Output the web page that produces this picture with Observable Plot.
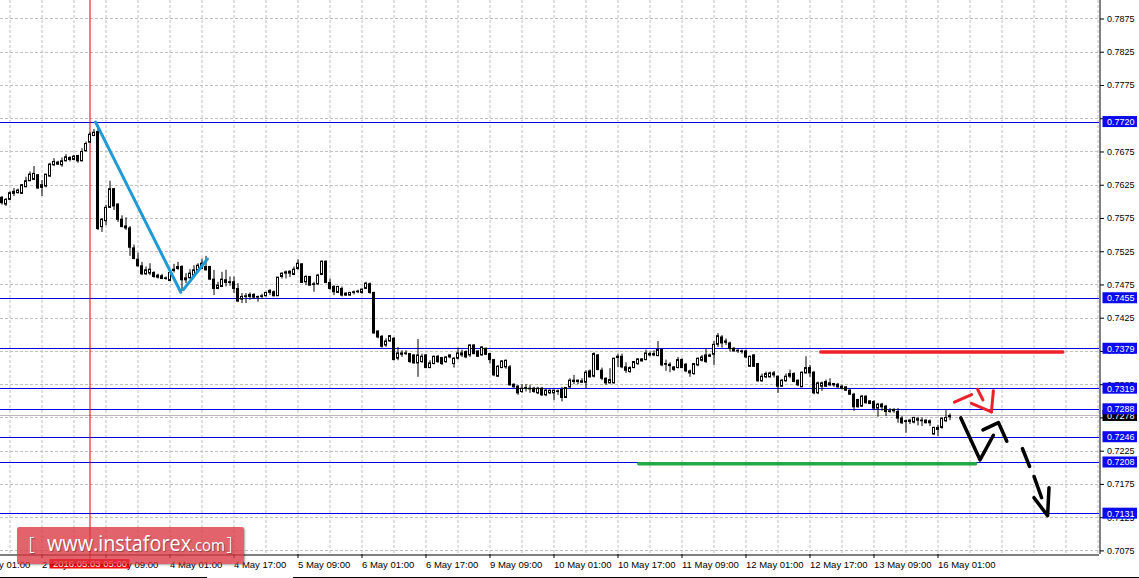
<!DOCTYPE html>
<html><head><meta charset="utf-8">
<script src="https://cdn.jsdelivr.net/npm/d3@7"></script>
<script src="https://cdn.jsdelivr.net/npm/@observablehq/plot@0.6"></script>
<style>
html,body{margin:0;padding:0;background:#fff;}
#wrap{position:relative;width:1139px;height:578px;overflow:hidden;background:#fff;}
#wrap svg{display:block;}
#wm{position:absolute;left:17px;top:527px;width:227px;height:37px;background:rgba(218,55,65,0.78);border-radius:2px;box-shadow:1px 1px 2px rgba(0,0,0,0.35);color:#fff;font-family:"Open Sans",sans-serif;white-space:nowrap;text-shadow:1px 1px 1px rgba(0,0,0,0.35);}
#wm span{position:absolute;line-height:1;}
#wm .b{top:7px;font-size:19px;font-weight:300;}
#wm .t{left:29.5px;top:5.4px;font-size:22.5px;transform:scaleX(0.88);transform-origin:0 0;}
#wm .t small{font-size:17px;}
.border{position:absolute;top:577px;height:1px;background:#000;}
</style></head><body>
<div id="wrap"></div>
<script>
// ---- data: AUD/USD H1 candles, 2 May 07:00 .. 16 May 04:00 (bar index 0..237)
const opens = [0.7606,0.7596,0.7603,0.7612,0.7613,0.7612,0.7622,0.7631,0.7633,0.7640,0.7621,0.7623,0.7638,0.7655,0.7659,0.7655,0.7661,0.7666,0.7663,0.7669,0.7661,0.7676,0.7689,0.7699,0.7705,0.7562,0.7571,0.7591,0.7619,0.7596,0.7573,0.7563,0.7560,0.7530,0.7513,0.7503,0.7491,0.7492,0.7493,0.7489,0.7488,0.7484,0.7481,0.7496,0.7499,0.7502,0.7482,0.7485,0.7489,0.7496,0.7499,0.7502,0.7502,0.7483,0.7469,0.7472,0.7482,0.7479,0.7479,0.7469,0.7453,0.7457,0.7457,0.7460,0.7456,0.7457,0.7458,0.7463,0.7464,0.7458,0.7487,0.7492,0.7492,0.7490,0.7499,0.7506,0.7479,0.7487,0.7475,0.7476,0.7490,0.7510,0.7478,0.7472,0.7463,0.7469,0.7462,0.7459,0.7463,0.7464,0.7463,0.7469,0.7476,0.7463,0.7405,0.7397,0.7384,0.7390,0.7394,0.7364,0.7372,0.7371,0.7371,0.7369,0.7357,0.7359,0.7369,0.7350,0.7356,0.7367,0.7365,0.7359,0.7366,0.7356,0.7364,0.7372,0.7374,0.7369,0.7384,0.7375,0.7369,0.7379,0.7371,0.7362,0.7337,0.7350,0.7351,0.7351,0.7325,0.7322,0.7314,0.7319,0.7319,0.7319,0.7312,0.7319,0.7309,0.7312,0.7312,0.7315,0.7317,0.7305,0.7321,0.7331,0.7329,0.7330,0.7328,0.7345,0.7337,0.7369,0.7346,0.7334,0.7327,0.7327,0.7365,0.7367,0.7351,0.7344,0.7350,0.7356,0.7363,0.7362,0.7371,0.7369,0.7368,0.7377,0.7356,0.7355,0.7351,0.7350,0.7362,0.7355,0.7345,0.7341,0.7354,0.7361,0.7369,0.7367,0.7370,0.7385,0.7396,0.7388,0.7387,0.7379,0.7376,0.7375,0.7375,0.7352,0.7369,0.7356,0.7330,0.7336,0.7336,0.7342,0.7337,0.7322,0.7330,0.7337,0.7341,0.7331,0.7321,0.7342,0.7350,0.7343,0.7312,0.7322,0.7329,0.7327,0.7324,0.7325,0.7322,0.7321,0.7316,0.7310,0.7302,0.7292,0.7307,0.7296,0.7299,0.7289,0.7295,0.7292,0.7284,0.7285,0.7284,0.7274,0.7270,0.7269,0.7268,0.7273,0.7271,0.7271,0.7267,0.7250,0.7257,0.7260,0.7270,0.7276];
const highs = [0.7608,0.7605,0.7615,0.7620,0.7619,0.7626,0.7637,0.7645,0.7653,0.7641,0.7632,0.7641,0.7658,0.7665,0.7661,0.7666,0.7671,0.7668,0.7670,0.7670,0.7680,0.7690,0.7704,0.7709,0.7715,0.7575,0.7595,0.7631,0.7620,0.7597,0.7579,0.7576,0.7563,0.7535,0.7523,0.7509,0.7502,0.7507,0.7495,0.7491,0.7491,0.7487,0.7494,0.7506,0.7509,0.7504,0.7492,0.7498,0.7504,0.7507,0.7514,0.7518,0.7503,0.7497,0.7479,0.7494,0.7497,0.7487,0.7487,0.7477,0.7462,0.7462,0.7463,0.7462,0.7458,0.7461,0.7464,0.7468,0.7466,0.7486,0.7493,0.7496,0.7496,0.7502,0.7513,0.7507,0.7489,0.7488,0.7479,0.7491,0.7511,0.7511,0.7484,0.7474,0.7473,0.7472,0.7463,0.7464,0.7466,0.7467,0.7469,0.7479,0.7478,0.7464,0.7406,0.7399,0.7394,0.7399,0.7396,0.7381,0.7376,0.7376,0.7372,0.7370,0.7393,0.7371,0.7370,0.7361,0.7368,0.7369,0.7366,0.7367,0.7370,0.7366,0.7380,0.7377,0.7376,0.7385,0.7385,0.7376,0.7382,0.7380,0.7372,0.7363,0.7354,0.7361,0.7362,0.7354,0.7326,0.7324,0.7325,0.7325,0.7324,0.7321,0.7321,0.7321,0.7318,0.7317,0.7317,0.7317,0.7321,0.7320,0.7334,0.7339,0.7332,0.7334,0.7346,0.7347,0.7373,0.7370,0.7350,0.7335,0.7349,0.7365,0.7371,0.7371,0.7358,0.7352,0.7360,0.7364,0.7364,0.7377,0.7374,0.7376,0.7390,0.7378,0.7362,0.7358,0.7352,0.7366,0.7364,0.7357,0.7347,0.7357,0.7365,0.7369,0.7379,0.7371,0.7390,0.7402,0.7399,0.7394,0.7389,0.7381,0.7379,0.7377,0.7377,0.7368,0.7370,0.7357,0.7341,0.7344,0.7344,0.7345,0.7338,0.7333,0.7341,0.7347,0.7343,0.7332,0.7344,0.7367,0.7354,0.7345,0.7329,0.7329,0.7332,0.7334,0.7327,0.7327,0.7324,0.7322,0.7319,0.7312,0.7303,0.7309,0.7308,0.7301,0.7301,0.7297,0.7297,0.7294,0.7289,0.7289,0.7289,0.7277,0.7272,0.7273,0.7276,0.7276,0.7275,0.7272,0.7272,0.7261,0.7264,0.7275,0.7286,0.7281];
const lows = [0.7595,0.7593,0.7602,0.7608,0.7612,0.7611,0.7621,0.7631,0.7632,0.7619,0.7608,0.7621,0.7637,0.7653,0.7655,0.7652,0.7660,0.7660,0.7662,0.7658,0.7660,0.7675,0.7688,0.7698,0.7557,0.7554,0.7564,0.7590,0.7587,0.7569,0.7561,0.7557,0.7518,0.7513,0.7502,0.7489,0.7489,0.7489,0.7485,0.7484,0.7483,0.7482,0.7480,0.7493,0.7497,0.7465,0.7477,0.7484,0.7486,0.7494,0.7498,0.7496,0.7482,0.7459,0.7468,0.7471,0.7472,0.7473,0.7462,0.7449,0.7447,0.7447,0.7452,0.7453,0.7449,0.7453,0.7457,0.7459,0.7457,0.7458,0.7484,0.7484,0.7486,0.7489,0.7497,0.7477,0.7474,0.7473,0.7464,0.7474,0.7489,0.7477,0.7467,0.7459,0.7462,0.7457,0.7458,0.7458,0.7460,0.7462,0.7461,0.7468,0.7461,0.7401,0.7394,0.7380,0.7381,0.7389,0.7361,0.7361,0.7366,0.7369,0.7357,0.7356,0.7336,0.7357,0.7349,0.7349,0.7355,0.7357,0.7354,0.7357,0.7364,0.7350,0.7362,0.7366,0.7364,0.7366,0.7370,0.7366,0.7368,0.7369,0.7356,0.7337,0.7336,0.7349,0.7348,0.7323,0.7320,0.7309,0.7312,0.7314,0.7312,0.7312,0.7310,0.7307,0.7307,0.7310,0.7301,0.7309,0.7299,0.7304,0.7319,0.7325,0.7325,0.7327,0.7319,0.7335,0.7335,0.7346,0.7331,0.7324,0.7326,0.7326,0.7351,0.7349,0.7342,0.7342,0.7349,0.7354,0.7359,0.7361,0.7367,0.7367,0.7367,0.7352,0.7345,0.7343,0.7345,0.7349,0.7349,0.7343,0.7336,0.7339,0.7352,0.7359,0.7357,0.7366,0.7354,0.7381,0.7380,0.7384,0.7374,0.7374,0.7372,0.7371,0.7364,0.7351,0.7351,0.7329,0.7329,0.7334,0.7335,0.7335,0.7312,0.7321,0.7329,0.7334,0.7328,0.7322,0.7321,0.7341,0.7336,0.7310,0.7310,0.7315,0.7321,0.7322,0.7321,0.7320,0.7317,0.7315,0.7309,0.7285,0.7290,0.7291,0.7296,0.7295,0.7286,0.7276,0.7285,0.7277,0.7282,0.7282,0.7267,0.7265,0.7252,0.7265,0.7266,0.7263,0.7262,0.7266,0.7262,0.7249,0.7247,0.7258,0.7268,0.7271];
const closes = [0.7598,0.7603,0.7613,0.7615,0.7617,0.7625,0.7631,0.7641,0.7642,0.7620,0.7625,0.7641,0.7656,0.7660,0.7656,0.7661,0.7667,0.7663,0.7668,0.7661,0.7675,0.7687,0.7701,0.7704,0.7559,0.7573,0.7591,0.7619,0.7593,0.7573,0.7562,0.7560,0.7531,0.7514,0.7503,0.7491,0.7497,0.7498,0.7487,0.7486,0.7484,0.7485,0.7493,0.7498,0.7502,0.7482,0.7485,0.7492,0.7497,0.7504,0.7507,0.7497,0.7483,0.7469,0.7474,0.7483,0.7478,0.7478,0.7469,0.7450,0.7457,0.7458,0.7460,0.7456,0.7457,0.7458,0.7463,0.7466,0.7458,0.7486,0.7492,0.7494,0.7495,0.7498,0.7507,0.7478,0.7487,0.7474,0.7476,0.7489,0.7510,0.7478,0.7469,0.7464,0.7472,0.7459,0.7459,0.7463,0.7464,0.7465,0.7468,0.7477,0.7463,0.7402,0.7396,0.7382,0.7390,0.7398,0.7362,0.7372,0.7370,0.7372,0.7359,0.7357,0.7369,0.7367,0.7350,0.7357,0.7367,0.7359,0.7356,0.7366,0.7369,0.7364,0.7372,0.7369,0.7366,0.7384,0.7371,0.7367,0.7381,0.7370,0.7362,0.7339,0.7352,0.7360,0.7361,0.7324,0.7321,0.7312,0.7319,0.7320,0.7318,0.7314,0.7319,0.7309,0.7316,0.7316,0.7316,0.7314,0.7305,0.7320,0.7331,0.7329,0.7331,0.7328,0.7343,0.7336,0.7371,0.7347,0.7334,0.7327,0.7332,0.7364,0.7367,0.7351,0.7346,0.7350,0.7359,0.7363,0.7360,0.7372,0.7369,0.7371,0.7377,0.7354,0.7355,0.7353,0.7347,0.7362,0.7350,0.7345,0.7342,0.7356,0.7364,0.7366,0.7359,0.7369,0.7385,0.7398,0.7387,0.7390,0.7379,0.7375,0.7375,0.7374,0.7366,0.7367,0.7352,0.7330,0.7337,0.7341,0.7342,0.7339,0.7322,0.7331,0.7337,0.7341,0.7329,0.7324,0.7343,0.7350,0.7342,0.7312,0.7327,0.7327,0.7322,0.7324,0.7326,0.7321,0.7319,0.7316,0.7310,0.7291,0.7291,0.7307,0.7297,0.7300,0.7289,0.7295,0.7291,0.7284,0.7285,0.7287,0.7274,0.7267,0.7269,0.7271,0.7275,0.7271,0.7270,0.7267,0.7270,0.7260,0.7260,0.7274,0.7275,0.7278];

// price scale ticks and labels
const yTicks = [0.7075,0.7125,0.7175,0.7225,0.7275,0.7325,0.7375,0.7425,0.7475,0.7525,0.7575,0.7625,0.7675,0.7725,0.7775,0.7825,0.7875];
// time axis: bar index of each label and its text
const xTickIdx = [-6,10,26,42,58,74,90,106,122,138,154,170,186,202,218,234];
const xTickText = ["2 May 01:00","2 May 17:00","3 May 09:00","4 May 01:00","4 May 17:00","5 May 09:00","6 May 01:00","6 May 17:00","9 May 09:00","10 May 01:00","10 May 17:00","11 May 09:00","12 May 01:00","12 May 17:00","13 May 09:00","16 May 01:00"];
// vertical grid every 8 bars
const gridIdx = [2,10,18,26,34,42,50,58,66,74,82,90,98,106,114,122,130,138,146,154,162,170,178,186,194,202,210,218,226,234,242,250,258,266,274];
// horizontal levels
const levels = [0.7720,0.7455,0.7379,0.7319,0.7288,0.7246,0.7208,0.7131];
const bidPrice = 0.7278;
const crossIdx = 22;
const crossLabel = "2016.05.03 05:00";
// drawn analysis objects (bar index, price)
const blueWave = [{g:0,i:23.4,p:0.7720},{g:0,i:44.7,p:0.7464},{g:1,i:45.35,p:0.7468},{g:1,i:51.35,p:0.7514}];
const redLevel = [{i:204.7,p:0.7374},{i:265.2,p:0.7374}];
const greenLevel = [{i:159.2,p:0.7206},{i:243.4,p:0.7206}];
const redArrow = [
  {g:0,i:238.1,p:0.72986},{g:0,i:242.4,p:0.7310},
  {g:1,i:242.35,p:0.7297},{g:1,i:247.35,p:0.7284},
  {g:2,i:243.9,p:0.7318},{g:2,i:245.25,p:0.7302},
  {g:3,i:247.85,p:0.7316},{g:3,i:247.35,p:0.7284}];
const blackArrow = [
  {g:0,i:239.7,p:0.7275},{g:0,i:244.5,p:0.7212},{g:0,i:247.85,p:0.7249},
  {g:1,i:245.25,p:0.7257},{g:1,i:249.1,p:0.7268},{g:1,i:251.2,p:0.7240},
  {g:2,i:255.1,p:0.7229},{g:2,i:256.9,p:0.7202},
  {g:3,i:258.0,p:0.7187},{g:3,i:259.9,p:0.7155},
  {g:4,i:258.0,p:0.7155},{g:4,i:261.4,p:0.7128},{g:4,i:261.75,p:0.7170}];

// ---- build
const candles = opens.map((o,i)=>({i, o, h:highs[i], l:lows[i], c:closes[i]}));
const xMin = -0.375, xMax = 274.375;
const yLo = 0.706961, yHi = 0.790282;
const xLabels = xTickIdx.map((i,k)=>({i, t:xTickText[k]}));
const FONT = "'Liberation Sans', Arial, sans-serif";

const chart = Plot.plot({
  width:1139, height:578,
  marginTop:0, marginLeft:0, marginRight:40, marginBottom:24,
  x:{domain:[xMin,xMax], axis:null},
  y:{domain:[yLo,yHi], axis:null, label:null},
  color:{type:"identity"},
  style:{fontFamily:FONT, background:"#fff", color:"#000", overflow:"visible"},
  marks:[
    Plot.gridY(yTicks, {stroke:"#c0c0c0", strokeOpacity:1, strokeDasharray:"3,2", shapeRendering:"crispEdges"}),
    Plot.gridX(gridIdx, {stroke:"#c0c0c0", strokeOpacity:1, strokeDasharray:"3,2"}),
    Plot.ruleY(levels, {stroke:"#0000e6", shapeRendering:"crispEdges"}),
    Plot.ruleY([bidPrice], {stroke:"#b8b8b8", shapeRendering:"crispEdges"}),
    Plot.ruleX([crossIdx], {stroke:"#e00000", insetBottom:-5}),
    // candles
    Plot.ruleX(candles, {x:"i", y1:"l", y2:"h", stroke:"#000"}),
    Plot.rect(candles, {x1:d=>d.i-0.25, x2:d=>d.i+0.25, y1:"o", y2:"c",
      fill:d=>d.c>d.o?"#ffffff":"#000000", stroke:"#000", strokeWidth:1}),
    // analysis drawings
    Plot.line(blueWave, {x:"i", y:"p", z:"g", stroke:"#1e9bd7", strokeWidth:3}),
    Plot.line(redLevel, {x:"i", y:"p", stroke:"#ee2028", strokeWidth:3.5}),
    Plot.line(greenLevel, {x:"i", y:"p", stroke:"#22a846", strokeWidth:3.5}),
    Plot.line(redArrow, {x:"i", y:"p", z:"g", stroke:"#ee2028", strokeWidth:3}),
    Plot.line(blackArrow, {x:"i", y:"p", z:"g", stroke:"#000", strokeWidth:3.5}),
    // axes
    Plot.ruleX([xMax], {dx:0.5, stroke:"#000"}),
    Plot.ruleY([yLo], {dy:0.5, stroke:"#000"}),
    Plot.axisY(yTicks, {anchor:"right", tickSize:4, tickPadding:3.5, tickFormat:d=>d.toFixed(4), fontSize:9, label:null}),
    Plot.ruleX(xTickIdx, {y1:()=>yLo, y2:()=>yLo, insetBottom:-4, stroke:"#000"}),
    Plot.text(xLabels, {x:"i", y:()=>yLo, text:"t", textAnchor:"start", dx:0, dy:10, fontSize:9.5, fill:"#000"}),
    // crosshair time label
    Plot.rect([crossIdx], {x1:d=>d, x2:d=>d, y1:()=>yLo, y2:()=>yLo, insetLeft:-40, insetRight:-40, insetTop:5, insetBottom:-14.5, fill:"#ff0000"}),
    Plot.text([crossIdx], {x:d=>d, y:()=>yLo, text:()=>crossLabel, dy:9.8, fontSize:9.5, fill:"#fff"}),
    // price labels
    Plot.rect([bidPrice], {x1:()=>xMax, x2:()=>xMax, y1:d=>d, y2:d=>d, insetLeft:3.5, insetRight:-38, insetTop:-5.5, insetBottom:-5.5, fill:"#000"}),
    Plot.text([bidPrice], {x:()=>xMax, y:d=>d, text:d=>d.toFixed(4), dx:7.5, textAnchor:"start", fontSize:9, fill:"#fff"}),
    Plot.rect(levels, {x1:()=>xMax, x2:()=>xMax, y1:d=>d, y2:d=>d, insetLeft:3.5, insetRight:-38, insetTop:-5.5, insetBottom:-5.5, fill:"#0a0af0"}),
    Plot.text(levels, {x:()=>xMax, y:d=>d, text:d=>d.toFixed(4), dx:7.5, textAnchor:"start", fontSize:9, fill:"#fff"})
  ]
});
const wrap = document.getElementById("wrap");
wrap.appendChild(chart);
const wm = document.createElement("div");
wm.id = "wm";
wm.innerHTML = '<span class="b" style="left:11.5px">[</span><span class="t">www.instaforex<small>.com</small></span><span class="b" style="left:209.5px">]</span>';
wrap.appendChild(wm);
[[0,207],[293,1139]].forEach(([a,b])=>{const d=document.createElement("div");d.className="border";d.style.left=a+"px";d.style.width=(b-a)+"px";wrap.appendChild(d);});
</script>
</body></html>
